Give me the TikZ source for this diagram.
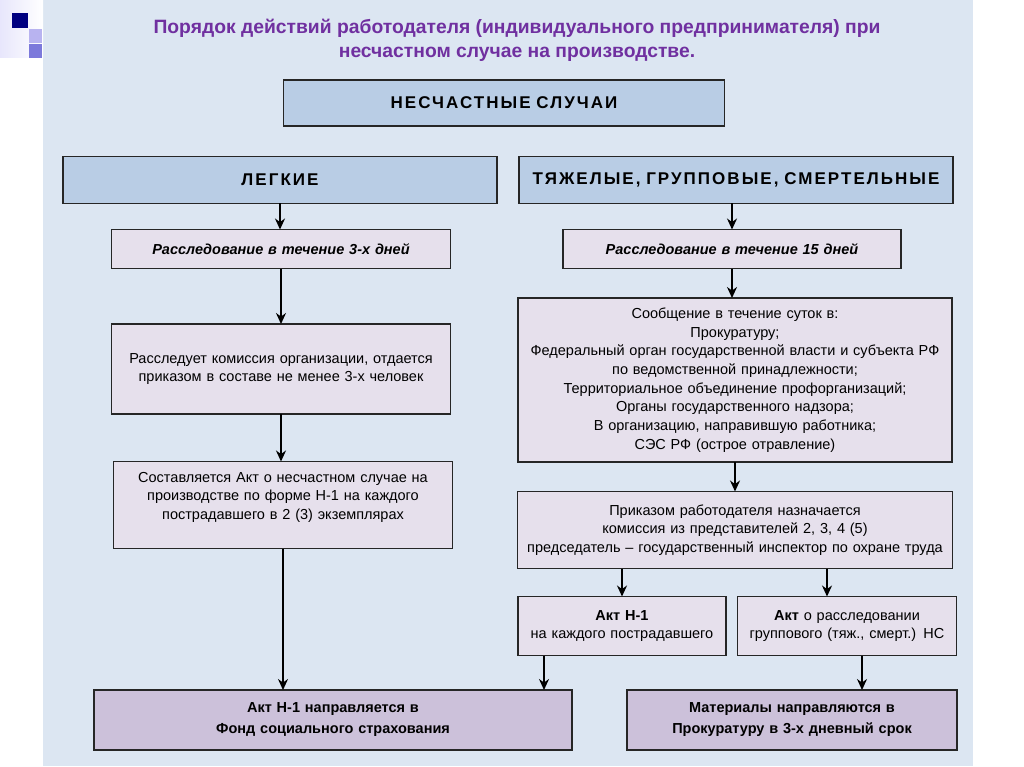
\documentclass[tikz,border=0pt]{standalone}
\usepackage{fontspec}
\setmainfont{Liberation Sans}
\newfontfamily\spaced{Liberation Sans}[LetterSpace=12]
\usetikzlibrary{positioning,arrows.meta}
\definecolor{panel}{HTML}{DCE6F2}
\definecolor{hdr}{HTML}{B9CDE5}
\definecolor{lav}{HTML}{E6E0EC}
\definecolor{dlav}{HTML}{CCC1DA}
\definecolor{ttl}{HTML}{7030A0}
\definecolor{navy}{HTML}{000080}
\tikzset{hbox/.style={draw=black!85,fill=hdr,line width=1.3pt,outer sep=0pt,inner xsep=4pt,align=center,font=\spaced\fontsize{17}{20}\selectfont\bfseries}}
\tikzset{lbox/.style={draw=black!85,fill=lav,line width=1.3pt,outer sep=0pt,inner xsep=4pt,align=center,font=\fontsize{14.5}{18.7}\selectfont}}
\tikzset{fbox/.style={lbox,fill=dlav,font=\fontsize{14.5}{21}\selectfont\bfseries}}
\tikzset{arr/.style={->,line width=1.6pt}}

\begin{document}
\begin{tikzpicture}[>={Stealth[length=11pt,width=10pt]},x=1pt,y=-1pt]
    % slide background
    \fill[white] (0,0) rectangle (1024,767);
    \fill[panel] (43,0) rectangle (973,766);
    \shade[left color=lav!70!blue!25,right color=white] (0,0) rectangle (43,58);
    \fill[navy] (12,13) rectangle (28,28);
    \fill[blue!20!lav] (29,29) rectangle (42,43);
    \fill[blue!40!lav!90!black] (29,44) rectangle (42,58);

    \node[ttl,align=center,font=\fontsize{19.3}{24}\selectfont\bfseries] (title) at (517,40) {Порядок действий работодателя (индивидуального предпринимателя) при\\несчастном случае на производстве.};

    \node[hbox,line width=1.6pt,text width=433pt,minimum height=46pt] (cases)at (504,103) {НЕСЧАСТНЫЕ СЛУЧАИ};
    \node[hbox,text width=426pt,minimum height=47pt] (light)at (280,180) {ЛЕГКИЕ};
    \node[hbox,text width=426pt,minimum height=47pt] (heavy)at (736,180) {ТЯЖЕЛЫЕ, ГРУППОВЫЕ, СМЕРТЕЛЬНЫЕ};

    \node[lbox,font=\fontsize{14.5}{18.7}\selectfont\bfseries\itshape,text width=331pt,minimum height=39pt] (inv3)at (281,249) {Расследование в течение 3-х дней};
    \node[lbox,text width=331pt,minimum height=90pt] (comm)at (281,369) {Расследует комиссия организации, отдается\\приказом в составе не менее 3-х человек};
    \node[lbox,text width=331pt,minimum height=87pt] (actl)at (283,505) {Составляется Акт о несчастном случае на\\производстве по форме Н-1 на каждого\\пострадавшего в 2 (3) экземплярах\\ \mbox{}};

    \node[lbox,font=\fontsize{14.5}{18.7}\selectfont\bfseries\itshape,text width=330pt,minimum height=39pt] (inv15)at (732,249) {Расследование в течение 15 дней};
    \node[lbox,text width=426pt,minimum height=164pt] (msg)at (735,380) {Сообщение в течение суток в:\\Прокуратуру;\\Федеральный орган государственной власти и субъекта РФ\\по ведомственной принадлежности;\\Территориальное объединение профорганизаций;\\Органы государственного надзора;\\В организацию, направившую работника;\\СЭС РФ (острое отравление)};
    \node[lbox,text width=427pt,minimum height=77pt] (order)at (735,530) {Приказом работодателя назначается\\комиссия из представителей 2, 3, 4 (5)\\председатель -- государственный инспектор по охране труда};
    \node[lbox,text width=200pt,minimum height=59pt] (actn)at (622,626) {\textbf{Акт Н-1}\\на каждого пострадавшего};
    \node[lbox,text width=211pt,minimum height=59pt] (actg)at (847,626) {\textbf{Акт} о расследовании\\группового (тяж., смерт.) НС};

    \node[fbox,text width=470pt,minimum height=60pt] (fss)at (333,720) {Акт Н-1 направляется в\\Фонд социального страхования};
    \node[fbox,text width=322pt,minimum height=60pt] (proc)at (792,720) {Материалы направляются в\\Прокуратуру в 3-х дневный срок};

    \draw [arr] (light.south) -- (light.south |- inv3.north);
    \draw [arr] (inv3.south) -- (inv3.south |- comm.north);
    \draw [arr] (comm.south) -- (comm.south |- actl.north);
    \draw [arr] (actl.south) -- (actl.south |- fss.north);
    \draw [arr] (inv15.north |- heavy.south) -- (inv15.north);
    \draw [arr] (inv15.south) -- (inv15.south |- msg.north);
    \draw [arr] (msg.south) -- (msg.south |- order.north);
    \draw [arr] (actn.north |- order.south) -- (actn.north);
    \draw [arr] ([xshift=-20pt]actg.north |- order.south) -- ([xshift=-20pt]actg.north);
    \draw [arr] ([xshift=26pt]actn.south west) -- ([xshift=26pt]actn.south west |- fss.north);
    \draw [arr] ([xshift=15pt]actg.south) -- ([xshift=15pt]actg.south |- proc.north);
\end{tikzpicture}
\end{document}
